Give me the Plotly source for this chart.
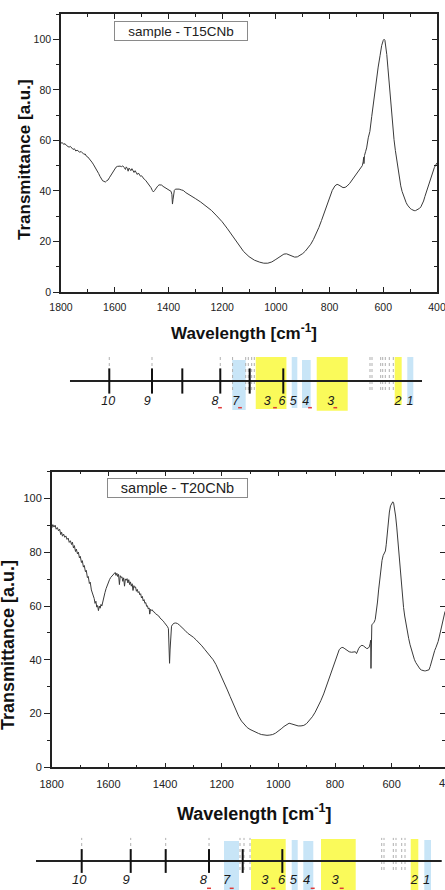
import plotly.graph_objects as go

W, H = 445, 890

# ---------------- spectrum data (wavenumber cm-1, transmittance a.u.) ----------------
t15_wn = [1800, 1795, 1790, 1785, 1780, 1775, 1770, 1765, 1760, 1755, 1750, 1745, 1740, 1735, 1730,
          1725, 1720, 1715, 1710, 1705, 1700, 1695, 1690, 1685, 1680, 1675, 1670, 1665, 1660, 1655,
          1650, 1645, 1640, 1635, 1630, 1625, 1620, 1615, 1610, 1605, 1600, 1595, 1590, 1585, 1580,
          1575, 1570, 1565, 1560, 1557, 1553, 1550, 1547, 1543, 1540, 1536, 1532, 1528, 1524, 1520,
          1516, 1512, 1508, 1504, 1500, 1495, 1490, 1485, 1480, 1475, 1470, 1465, 1460, 1456, 1452,
          1448, 1444, 1440, 1435, 1430, 1425, 1420, 1415, 1410, 1405, 1400, 1395, 1390, 1387, 1385,
          1383, 1381, 1378, 1374, 1368, 1360, 1352, 1345, 1335, 1320, 1300, 1280, 1260, 1240, 1220,
          1200, 1180, 1160, 1140, 1120, 1100, 1080, 1060, 1045, 1030, 1015, 1000, 985, 970, 960,
          950, 940, 930, 920, 910, 900, 890, 880, 870, 860, 850, 840, 830, 820, 810,
          800, 790, 780, 772, 765, 758, 750, 742, 735, 725, 715, 705, 695, 685, 678,
          675, 673, 672, 670, 666, 662, 656, 650, 643, 637, 631, 625, 619, 612, 606,
          600, 597, 594, 590, 587, 583, 579, 575, 570, 565, 560, 555, 550, 545, 540,
          535, 530, 525, 520, 515, 510, 505, 500, 495, 490, 485, 480, 475, 470, 465,
          460, 455, 450, 445, 440, 435, 430, 425, 420, 415, 410, 405, 400]
t15_val = [58.9, 59.1, 58.4, 58.7, 58.0, 57.8, 57.3, 57.6, 56.9, 56.4, 56.7, 55.8, 56.1, 55.5, 55.3,
           55.6, 54.8, 54.5, 54.6, 53.7, 53.4, 52.8, 52.3, 51.4, 50.6, 49.8, 49.0, 47.9, 46.9, 45.8,
           44.6, 44.0, 43.8, 43.5, 44.0, 44.3, 45.2, 46.1, 47.0, 48.0, 48.8, 49.4, 49.7, 49.9, 49.8,
           49.6, 49.9, 49.3, 48.5, 49.5, 48.9, 47.8, 49.0, 48.6, 48.0, 48.8, 47.9, 47.3, 48.0, 47.2,
           46.5, 47.1, 46.3, 45.8, 46.0, 45.2, 44.6, 44.2, 43.5, 43.0, 42.2, 41.3, 40.2, 39.6, 40.1,
           40.8, 41.4, 41.9, 42.4, 42.5, 42.3, 41.8, 41.5, 41.2, 41.0, 40.7, 40.3, 39.8, 38.5, 34.8,
           36.5, 39.0, 40.2, 40.7, 40.8, 40.7, 40.4, 40.2, 39.3, 38.4, 37.0, 35.6, 34.0, 32.3, 30.1,
           27.8, 25.0, 22.0, 18.8, 16.0, 14.0, 12.6, 11.8, 11.4, 11.4, 11.9, 12.9, 14.0, 15.0, 15.1,
           14.7, 14.1, 13.8, 13.9, 14.4, 15.2, 16.2, 17.4, 18.9, 20.8, 23.0, 25.5, 28.3, 31.2, 34.4,
           37.6, 40.2, 42.0, 42.6, 42.3, 41.7, 41.3, 41.4, 41.9, 43.0, 44.4, 45.9, 47.3, 48.8, 50.0,
           51.5, 53.3, 50.8, 54.0, 55.5, 57.0, 61.0, 63.5, 69.5, 75.0, 80.0, 84.5, 89.0, 93.5, 97.5,
           99.6, 100.0, 99.6, 97.3, 94.0, 89.0, 84.0, 77.0, 71.0, 65.5, 60.3, 56.0, 52.3, 48.5, 45.0,
           42.0, 39.8, 38.0, 36.7, 35.4, 34.4, 33.6, 33.1, 32.7, 32.4, 32.2, 32.2, 32.4, 32.7, 33.1,
           33.7, 34.6, 36.0, 37.8, 39.5, 41.1, 42.8, 44.6, 46.3, 48.1, 49.2, 50.2, 51.1]

t20_wn = [1800, 1796, 1792, 1788, 1784, 1780, 1776, 1772, 1768, 1765, 1762, 1758, 1754, 1750, 1746,
          1742, 1738, 1734, 1730, 1727, 1723, 1720, 1716, 1713, 1709, 1706, 1702, 1699, 1695, 1692,
          1688, 1685, 1681, 1678, 1674, 1671, 1667, 1664, 1660, 1657, 1653, 1650, 1647, 1644, 1641,
          1638, 1635, 1632, 1629, 1626, 1623, 1620, 1616, 1612, 1608, 1604, 1600, 1596, 1592, 1588,
          1584, 1580, 1576, 1573, 1570, 1567, 1564, 1561, 1558, 1555, 1552, 1549, 1546, 1543, 1540,
          1537, 1534, 1531, 1528, 1525, 1522, 1519, 1516, 1513, 1510, 1507, 1504, 1501, 1498, 1495,
          1492, 1489, 1486, 1483, 1480, 1477, 1474, 1471, 1468, 1465, 1462, 1459, 1456, 1454, 1451,
          1448, 1445, 1442, 1438, 1434, 1430, 1426, 1422, 1418, 1414, 1410, 1406, 1402, 1398, 1394,
          1391, 1388, 1386, 1384, 1382, 1380, 1377, 1373, 1368, 1362, 1356, 1350, 1344, 1338, 1330,
          1320, 1310, 1300, 1290, 1280, 1270, 1260, 1250, 1240, 1230, 1220, 1210, 1200, 1190, 1180,
          1170, 1160, 1150, 1140, 1130, 1120, 1110, 1100, 1090, 1080, 1070, 1060, 1050, 1040, 1030,
          1020, 1010, 1000, 990, 980, 970, 962, 955, 948, 940, 930, 920, 910, 900, 890,
          880, 870, 860, 850, 840, 830, 820, 810, 800, 792, 785, 778, 772, 765, 758,
          750, 742, 735, 728, 724, 721, 716, 710, 705, 700, 694, 688, 683, 679, 676,
          674, 673, 672, 670, 666, 662, 658, 654, 650, 646, 642, 638, 634, 630, 626,
          622, 619, 615, 612, 608, 604, 600, 596, 593, 590, 586, 582, 578, 574, 570,
          566, 562, 558, 554, 550, 545, 540, 535, 530, 525, 520, 515, 510, 505, 500,
          495, 490, 485, 480, 476, 472, 468, 464, 460, 456, 452, 448, 444, 440, 436,
          432, 428, 424, 420, 416, 412, 408]
t20_val = [89.0, 90.3, 89.4, 90.1, 88.6, 89.2, 88.0, 88.6, 86.6, 87.5, 86.0, 86.8, 85.6, 86.1, 84.8,
           85.3, 83.7, 84.3, 82.9, 83.8, 81.6, 82.5, 80.3, 81.2, 79.4, 80.1, 77.9, 78.5, 76.2, 76.9,
           74.5, 75.1, 72.8, 73.3, 70.6, 71.0, 68.4, 68.9, 66.0, 65.2, 63.5, 62.8, 61.0, 61.8, 59.6,
           60.2, 58.3, 60.0, 59.2, 60.6, 60.0, 61.8, 63.6, 65.0, 66.5, 67.8, 69.0, 69.8, 70.6, 71.1,
           71.8, 72.3, 72.5, 71.4, 72.2, 71.0, 71.8, 68.0, 71.3, 70.6, 70.9, 69.2, 70.5, 67.4, 70.1,
           69.6, 70.2, 68.6, 69.8, 68.0, 69.0, 67.4, 68.3, 65.8, 67.6, 66.9, 67.1, 65.5, 66.2, 65.0,
           65.4, 64.2, 64.6, 63.0, 63.6, 61.9, 62.4, 61.0, 61.3, 59.9, 60.1, 58.9, 59.3, 57.0, 58.8,
           58.4, 58.6, 58.0, 57.8, 57.2, 57.0, 56.5, 56.3, 55.6, 55.3, 54.8, 54.4, 53.8, 53.3, 52.8,
           52.3, 51.6, 45.0, 38.7, 44.0, 50.6, 52.5, 53.2, 53.6, 53.7, 53.5, 53.0, 52.5, 51.8, 51.0,
           49.9, 49.2, 48.4, 47.4, 46.4, 45.2, 43.9, 42.6, 41.3, 40.0, 38.2, 36.0, 33.8, 31.3, 28.8,
           26.3, 23.8, 21.2, 19.0, 17.2, 15.8, 14.8, 14.1, 13.5, 13.0, 12.6, 12.2, 12.0, 11.9, 12.0,
           12.2, 12.7, 13.4, 14.3, 15.2, 16.0, 16.4, 16.2, 15.9, 15.6, 15.4, 15.4, 15.6, 16.3, 17.4,
           18.8, 20.5, 22.4, 24.8, 27.3, 30.4, 33.4, 36.9, 40.0, 42.3, 43.8, 44.5, 44.6, 44.1, 43.5,
           43.0, 42.8, 42.8, 43.0, 42.3, 43.2, 44.3, 45.1, 45.4, 45.2, 44.5, 44.2, 44.3, 44.8, 46.0,
           47.3, 36.8, 45.0, 53.0, 53.5, 54.0, 55.0, 58.0, 61.5, 66.0, 70.0, 73.5, 77.0, 78.8, 79.5,
           80.5, 83.0, 88.0, 91.5, 95.0, 97.3, 98.3, 98.8, 98.3, 96.8, 93.5, 89.4, 84.0, 78.5, 73.0,
           67.5, 63.0, 59.5, 56.3, 53.5, 50.5, 48.0, 45.6, 43.5, 41.6, 40.2, 39.0, 38.0, 37.2, 36.6,
           36.2, 36.0, 35.9, 35.9, 36.0, 36.1, 36.3, 37.5, 39.3, 40.8, 42.2, 43.5, 44.5, 45.5, 46.8,
           48.5, 50.5, 52.8, 55.0, 56.5, 57.8, 58.5]

sample_names = ["sample - T15CNb", "sample - T20CNb"]
x_title = "Wavelength [cm<sup>-1</sup>]"
y_title = "Transmittance [a.u.]"

# ---------------- band-assignment strips (wavenumber positions on each strip) ----------------
band_labels = ["10", "9", "8", "7", "3", "6", "5", "4", "3", "2", "1"]
top_label_wn = [1623.9, 1478.7, 1226.6, 1149.5, 1031.9, 977.1, 935.1, 888.9, 795.8, 545.2, 500.5]
top_tick_wn = [1620.2, 1461.2, 1348.3, 1206.9, 1097.4, 972.3]
top_line_wn = [1766.5, 455.8]
top_blue_from = [1162.2, 940.9, 902.6, 510.6]
top_blue_to = [1112.3, 920.1, 870.3, 488.2]
top_yellow_from = [1074.9, 847.9, 557.5]
top_yellow_to = [960.6, 732.5, 531.5]
top_dot_wn = [1620.2, 1461.2, 1206.9, 1161.1, 1112.3, 1102.6, 1090.0, 1080.3,
              649.5, 642.0, 609.6, 602.2, 592.5, 577.6, 562.7]
top_mark_wn = [1208.0, 1133.5, 1003.2, 872.9, 778.7]

bot_label_wn = [1702.6, 1537.7, 1264.9, 1182.2, 1047.1, 988.1, 947.2, 899.9, 799.9, 520.0, 476.3]
bot_tick_wn = [1694.1, 1521.1, 1397.6, 1244.7, 1125.8, 985.9]
bot_line_wn = [1855.4, 423.3]
bot_blue_from = [1191.8, 952.8, 911.9, 484.7]
bot_blue_to = [1138.8, 931.6, 876.6, 461.1]
bot_yellow_from = [1096.5, 849.4, 532.7]
bot_yellow_to = [974.0, 726.9, 505.9]
bot_dot_wn = [1694.1, 1521.1, 1397.6, 1244.7, 1135.3, 1121.2, 1100.0,
              635.1, 627.0, 594.2, 584.7, 564.5, 552.9]
bot_mark_wn = [1244.7, 1164.6, 1017.8, 878.7, 776.3]

# ---------------- styles ----------------
FONT = "Liberation Sans, Arial, sans-serif"
LINE_COL = "#222222"
CURVE_COL = "#3a3a3a"
BLUE = "#c8e5f7"
YELLOW = "#fafa5a"


def py(px):
    return 1 - px / H


fig = go.Figure()
fig.add_trace(go.Scatter(x=t15_wn, y=t15_val, mode="lines", line=dict(color=CURVE_COL, width=1),
                         xaxis="x", yaxis="y", hoverinfo="skip"))
fig.add_trace(go.Scatter(x=t20_wn, y=t20_val, mode="lines", line=dict(color=CURVE_COL, width=1),
                         xaxis="x2", yaxis="y2", hoverinfo="skip"))
# carriers for the right-hand (inward tick) axes
fig.add_trace(go.Scatter(x=[1000], y=[-50], mode="markers", marker=dict(opacity=0),
                         xaxis="x", yaxis="y5", hoverinfo="skip"))
fig.add_trace(go.Scatter(x=[1000], y=[-50], mode="markers", marker=dict(opacity=0),
                         xaxis="x2", yaxis="y6", hoverinfo="skip"))

shapes = []


def strip(xa, ya, line_wn, ticks, labels_wn, bf, bt, btops, bbots, yf, yt, ytops, ybots,
          dots, dot_spans, marks, mark_y, tick_size, label_y, label_size):
    for i in range(len(bf)):
        shapes.append(dict(type="rect", xref=xa, yref=ya, x0=bf[i], x1=bt[i], y0=bbots[i], y1=btops[i],
                           fillcolor=BLUE, line=dict(width=0), layer="below"))
    for i in range(len(yf)):
        shapes.append(dict(type="rect", xref=xa, yref=ya, x0=yf[i], x1=yt[i], y0=ybots[i], y1=ytops[i],
                           fillcolor=YELLOW, line=dict(width=0), layer="below"))
    for i, d in enumerate(dots):
        y0, y1 = dot_spans[i]
        shapes.append(dict(type="line", xref=xa, yref=ya, x0=d, x1=d, y0=y0, y1=y1,
                           line=dict(color="#b0b0b0", width=1, dash="dot"), layer="below"))
    shapes.append(dict(type="line", xref=xa, yref=ya, x0=line_wn[0], x1=line_wn[1], y0=0, y1=0,
                       line=dict(color=LINE_COL, width=2), layer="below"))
    for m in marks:
        shapes.append(dict(type="line", xref=xa, yref=ya, x0=m - 7, x1=m + 7, y0=mark_y, y1=mark_y,
                           line=dict(color="#e03a3a", width=1.5)))
    fig.add_trace(go.Scatter(x=ticks, y=[0] * len(ticks), mode="markers", xaxis=xa, yaxis=ya,
                             marker=dict(symbol="line-ns", size=tick_size,
                                         line=dict(width=2, color="#111111")),
                             hoverinfo="skip"))
    fig.add_trace(go.Scatter(x=labels_wn, y=[label_y] * len(labels_wn), mode="text", text=band_labels,
                             xaxis=xa, yaxis=ya,
                             textfont=dict(family=FONT, size=label_size, color="#1a1a1a", style="italic"),
                             hoverinfo="skip"))


top_dot_spans = [(0.3, 0.8)] * 3 + [(-0.3, 0.8)] * 5 + [(-0.3, 0.8)] * 7
bot_dot_spans = [(0.3, 0.77)] * 4 + [(-0.3, 0.77)] * 3 + [(-0.3, 0.77)] * 6

strip("x3", "y3", top_line_wn, top_tick_wn, top_label_wn,
      top_blue_from, top_blue_to, [0.7, 0.8, 0.7, 0.8], [-0.967, -0.9, -0.9, -0.8],
      top_yellow_from, top_yellow_to, [0.8, 0.8, 0.8], [-0.933, -0.99, -0.8],
      top_dot_wn, top_dot_spans, top_mark_wn, -0.89, 18, -0.69, 12.5)
strip("x4", "y4", bot_line_wn, bot_tick_wn, bot_label_wn,
      bot_blue_from, bot_blue_to, [0.667, 0.7, 0.667, 0.7], [-0.967] * 4,
      bot_yellow_from, bot_yellow_to, [0.733, 0.733, 0.733], [-0.967] * 3,
      bot_dot_wn, bot_dot_spans, bot_mark_wn, -0.91, 17, -0.657, 13)


def xaxis_cfg(domain, rng, anchor, fsize, standoff):
    return dict(domain=domain, range=rng, anchor=anchor, dtick=200, tick0=0, automargin=False,
                ticks="inside", ticklen=5, tickwidth=1, tickcolor=LINE_COL,
                minor=dict(dtick=100, tick0=0, ticks="inside", ticklen=3, tickcolor=LINE_COL),
                showline=True, linecolor=LINE_COL, linewidth=1.5, mirror="ticks",
                showgrid=False, zeroline=False, ticklabelstandoff=standoff,
                ticklabeloverflow="allow",
                tickfont=dict(family=FONT, size=fsize, color="#222"))


def yaxis_cfg(domain, anchor, fsize):
    return dict(domain=domain, range=[0, 110], anchor=anchor, dtick=20, tick0=0, automargin=False,
                ticks="outside", ticklen=6, tickwidth=1, tickcolor=LINE_COL,
                minor=dict(dtick=10, tick0=0, ticks="outside", ticklen=3, tickcolor=LINE_COL),
                showline=True, linecolor=LINE_COL, linewidth=1.5, mirror=True,
                showgrid=False, zeroline=False,
                tickfont=dict(family=FONT, size=fsize, color="#222"))


def right_cfg(over, anchor):
    return dict(overlaying=over, side="right", anchor=anchor, range=[0, 110], dtick=20, tick0=0,
                automargin=False,
                ticks="inside", ticklen=5, tickcolor=LINE_COL, showticklabels=False,
                minor=dict(dtick=10, tick0=0, ticks="inside", ticklen=3, tickcolor=LINE_COL),
                showline=False, showgrid=False, zeroline=False)


def hidden(domain, rng, anchor):
    return dict(domain=domain, range=rng, anchor=anchor, visible=False, automargin=False,
                showgrid=False, zeroline=False)


top_dom_y = [py(292), py(14)]
bot_dom_y = [py(767.3), py(471.7)]


def note(x, y, text, size, bold=False, angle=0, **extra):
    d = dict(x=x / W, y=py(y), xref="paper", yref="paper", text=text, showarrow=False,
             xanchor="center", yanchor="middle", textangle=angle,
             font=dict(family=FONT, size=size, color="#111" if bold else "#222",
                       weight="bold" if bold else "normal"))
    d.update(extra)
    return d


box = dict(bordercolor="#8a8a8a", borderwidth=1, borderpad=2, height=14, bgcolor="white")
annotations = [
    note(181, 31, sample_names[0], 13.5, width=128, **box),
    note(177.5, 488, sample_names[1], 14.5, width=135, **box),
    note(24, 160, y_title, 17, bold=True, angle=-90),
    note(8, 645, y_title, 18, bold=True, angle=-90),
    note(243.5, 332, x_title, 17, bold=True),
    note(254, 812, x_title, 18, bold=True),
    note(448.3, 783.3, "400", 11),
]

fig.update_layout(
    template="none",
    width=W, height=H, margin=dict(l=0, r=0, t=0, b=0, pad=0),
    paper_bgcolor="white", plot_bgcolor="white", showlegend=False,
    font=dict(family=FONT, color="#222"),
    xaxis=xaxis_cfg([61 / W, 437 / W], [1800, 400], "y", 10.5, 5),
    yaxis=yaxis_cfg(top_dom_y, "x", 10.5),
    xaxis2=xaxis_cfg([51.7 / W, 1], [1800, 411.7], "y2", 11, 6),
    yaxis2=yaxis_cfg(bot_dom_y, "x2", 11),
    yaxis5=right_cfg("y", "x"),
    yaxis6=right_cfg("y2", "x2"),
    xaxis3=hidden([0, 1], [2027.1, 370.2], "y3"),
    yaxis3=hidden([py(411), py(351)], [-1, 1], "x3"),
    xaxis4=hidden([0, 1], [1982.5, 411.7], "y4"),
    yaxis4=hidden([0, py(832)], [-0.9667, 0.9667], "x4"),
    shapes=shapes,
    annotations=annotations,
)

fig.write_html("out.html", config={"displayModeBar": False},
               post_script="document.body.style.margin='0';document.body.style.overflow='hidden';")
